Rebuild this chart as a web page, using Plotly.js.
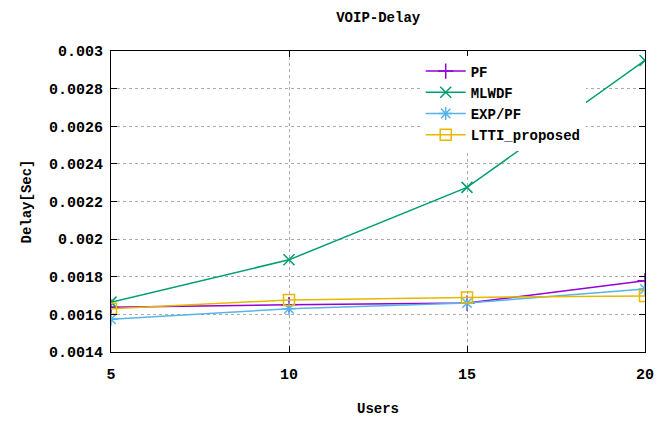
<!DOCTYPE html>
<html><head><meta charset="utf-8">
<script src="https://cdn.plot.ly/plotly-3.0.1.min.js"></script>
<style>html,body{margin:0;padding:0;background:#fff}#chart{width:667px;height:423px}</style>
</head><body><div id="chart"></div>
<script>
const users = [5, 10, 15, 20];
const seriesNames = ["PF", "MLWDF", "EXP/PF", "LTTI_proposed"];
const pf = [0.001638, 0.001651, 0.00166, 0.001779];
const mlwdf = [0.001665, 0.00189, 0.002275, 0.00295];
const exppf = [0.001574, 0.00163, 0.00166, 0.001735];
const ltti = [0.00163, 0.001677, 0.00169, 0.001698];
const yTickVals = [0.0014, 0.0016, 0.0018, 0.002, 0.0022, 0.0024, 0.0026, 0.0028, 0.003];
const yTickText = ["0.0014", "0.0016", "0.0018", "0.002", "0.0022", "0.0024", "0.0026", "0.0028", "0.003"];
const xTickVals = [5, 10, 15, 20];

const colors = ["#9400d3", "#009e73", "#56b4e9", "#e6b800"];
const symbols = ["cross-thin-open", "x-thin-open", "asterisk-open", "square-open"];
const values = [pf, mlwdf, exppf, ltti];
const FONT = "'Liberation Mono', 'DejaVu Sans Mono', monospace";
const f = (s) => ({family: FONT, size: s, color: "#000", weight: "bold"});

const traces = values.map((v, i) => ({
  x: users, y: v, name: seriesNames[i], type: "scatter", mode: "lines+markers",
  line: {color: colors[i], width: 1.5},
  marker: {symbol: symbols[i], size: 11, color: colors[i], line: {color: colors[i], width: 1.5}}
}));

const layout = {
  width: 667, height: 423,
  margin: {l: 111, r: 22, t: 51, b: 71},
  paper_bgcolor: "#fff", plot_bgcolor: "#fff",
  font: f(14),
  title: {text: "VOIP-Delay", x: 0.567, xanchor: "center", y: 0.96, yanchor: "middle", font: f(14)},
  xaxis: {
    range: [5, 20], tickvals: xTickVals, ticktext: xTickVals.map(String),
    showline: true, linecolor: "#000", linewidth: 1, mirror: "ticks",
    ticks: "inside", ticklen: 6, tickcolor: "#000", ticklabelstandoff: 8,
    showgrid: true, gridcolor: "#aaa", griddash: "dot", gridwidth: 1,
    zeroline: false, tickfont: f(15),
    title: {text: "Users", standoff: 20, font: f(14)}
  },
  yaxis: {
    range: [0.0014, 0.003], tickvals: yTickVals, ticktext: yTickText,
    showline: true, linecolor: "#000", linewidth: 1, mirror: "ticks",
    ticks: "inside", ticklen: 6, tickcolor: "#000", ticklabelstandoff: 4,
    showgrid: true, gridcolor: "#aaa", griddash: "dot", gridwidth: 1,
    zeroline: false, tickfont: f(15),
    title: {text: "Delay[Sec]", standoff: 14, font: f(14)}
  },
  showlegend: true,
  legend: {x: 0.58, y: 0.985, xanchor: "left", yanchor: "top", bgcolor: "#fff",
           borderwidth: 0, tracegroupgap: 0, itemwidth: 40, font: f(14)}
};

Plotly.newPlot("chart", traces, layout, {displayModeBar: false, staticPlot: true});
</script></body></html>
